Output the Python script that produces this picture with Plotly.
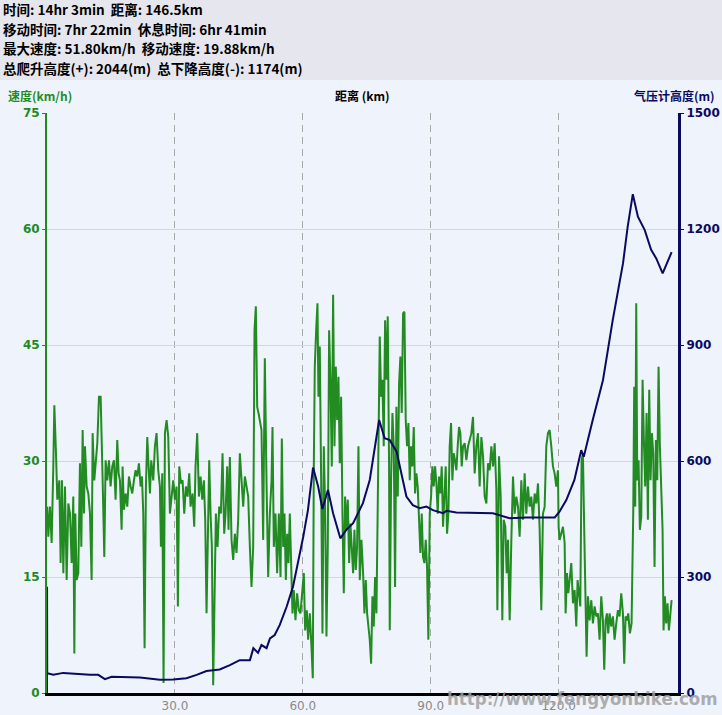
import plotly.graph_objects as go

# ---------------- data ----------------
header_lines = [
    "时间: 14hr 3min\u00a0\u00a0距离: 146.5km",
    "移动时间: 7hr 22min\u00a0\u00a0休息时间: 6hr 41min",
    "最大速度: 51.80km/h\u00a0\u00a0移动速度: 19.88km/h",
    "总爬升高度(+): 2044(m)\u00a0\u00a0总下降高度(-): 1174(m)",
]
speed_title = "速度(km/h)"
dist_title = "距离 (km)"
alt_title = "气压计高度(m)"
watermark = "http://www.fengyonbike.com"

x_tickvals = [30, 60, 90, 120]
x_ticktext = ["30.0", "60.0", "90.0", "120.0"]
speed_ticks = [0, 15, 30, 45, 60, 75]
alt_ticks = [0, 300, 600, 900, 1200, 1500]

# altitude (barometric) profile: distance km / metres
alt_km = [0, 0.01, 0.05, 1.48, 3.82, 10.08, 12.02, 13.59, 15.16, 21.8,
          26.5, 29.6, 32.7, 35.1, 37.4, 40.5, 42.9, 45.2, 47.6, 48.4,
          49.5, 50.3, 51.5, 52.3, 53.4, 54.6, 56.2, 57.7, 58.9, 60.1,
          61.2, 62.4, 63.6, 64.6, 65.9, 67.1, 68.8, 70.2, 71.8, 74.1,
          75.7, 77.9, 79.2, 80.4, 82.0, 84.3, 85.8, 87.4, 89.0, 90.5,
          92.9, 93.7, 96.0, 99.1, 100.7, 104.6, 108.5, 112.4, 119.1, 120.2,
          121.8, 123.7, 125.3, 125.9, 128.0, 130.4, 132.7, 135.1, 136.2, 137.4,
          138.6, 140.2, 141.7, 142.9, 144.4, 146.5]
alt_m = [0, 275, 51, 47, 52, 47, 47, 36, 42, 40,
         34, 35, 38, 47, 57, 61, 72, 85, 85, 116,
         104, 124, 116, 141, 150, 176, 223, 275, 335, 404,
         473, 583, 534, 476, 525, 465, 400, 422, 439, 491,
         551, 706, 659, 654, 624, 508, 486, 478, 482, 473,
         465, 471, 467, 466, 465, 465, 452, 454, 454, 469,
         499, 551, 628, 611, 706, 809, 965, 1111, 1206, 1290,
         1232, 1197, 1146, 1124, 1085, 1140]

# speed profile: distance km / km/h
speed_km_a = [0.05, 0.31, 0.70, 1.09, 1.48, 1.72, 2.11, 2.42, 2.89, 3.20,
              3.52, 3.83, 4.22, 4.61, 5.00, 5.39, 5.78, 6.17, 6.41, 6.64,
              6.95, 7.34, 7.73, 8.05, 8.36, 8.67, 8.91, 9.30, 9.69, 10.08,
              10.47, 10.70, 11.09, 11.48, 11.80, 12.19, 12.58, 13.05, 13.44, 13.75,
              14.14, 14.53, 14.92, 15.31, 15.70, 16.09, 16.48, 16.80, 17.11, 17.50,
              17.73, 18.05, 18.44, 18.83, 19.22, 19.61, 20.00, 20.39, 20.78, 21.17,
              21.56, 21.95, 22.27, 22.58, 22.89, 23.20, 23.52, 23.83, 24.14, 24.45,
              24.92, 25.31, 25.70, 26.09, 26.48, 26.72, 27.03, 27.34, 27.66, 28.05,
              28.44, 28.83, 29.22, 29.61, 30.00, 30.39, 30.70, 31.02, 31.41, 31.80,
              32.19, 32.58, 32.97, 33.36, 33.67, 34.14, 34.53, 34.84, 35.23, 35.63,
              36.02, 36.41, 36.80, 37.11, 37.42, 37.73, 38.05, 38.36, 38.67, 38.98,
              39.30, 39.61, 40.00, 40.39, 40.78, 41.17, 41.56, 41.88, 42.27, 42.58,
              42.89, 43.28, 43.67, 44.06, 44.45, 44.84, 45.23, 45.63, 46.02, 46.41,
              46.80, 47.19, 47.58, 47.97, 48.36, 48.67, 48.98, 49.30, 49.61]
speed_a = [24.1, 20.2, 24.1, 19.4, 29.3, 37.2, 31.0, 25.0, 27.5, 16.8,
           27.5, 15.5, 26.7, 14.6, 24.5, 23.2, 16.8, 25.4, 5.1, 23.2,
           14.6, 15.5, 29.7, 18.9, 34.0, 23.2, 31.9, 26.7, 25.8, 23.2,
           14.6, 33.6, 27.5, 31.0, 32.3, 38.3, 38.3, 27.5, 17.6, 30.1,
           27.5, 30.1, 26.7, 29.3, 30.1, 25.0, 32.7, 28.4, 27.5, 21.1,
           29.3, 23.7, 25.8, 24.1, 28.0, 26.7, 25.8, 27.5, 28.8, 28.0,
           29.7, 26.7, 28.0, 23.2, 5.8, 26.7, 33.1, 29.3, 25.8, 30.1,
           27.5, 31.9, 33.6, 28.8, 26.7, 18.9, 28.4, 1.3, 33.6, 35.3,
           33.1, 23.2, 25.8, 27.5, 25.0, 26.7, 11.2, 29.3, 27.1, 27.5,
           23.2, 26.7, 25.4, 28.4, 24.1, 25.8, 21.5, 29.3, 33.6, 25.4,
           28.0, 25.0, 27.5, 22.4, 10.3, 23.2, 30.1, 23.2, 18.9, 1.0,
           14.6, 23.2, 18.9, 24.1, 23.2, 31.0, 20.6, 23.2, 29.3, 21.1,
           30.5, 19.8, 17.2, 20.6, 18.1, 22.4, 31.0, 27.5, 24.1, 28.0,
           26.7, 25.4, 18.9, 13.7, 18.9, 46.9, 50.0, 37.0, 36.2]

speed_km_b = [50.31, 50.70, 51.09, 51.48, 51.88, 52.27, 52.66, 52.89, 53.20, 53.59,
              53.98, 54.38, 54.77, 55.08, 55.39, 55.70, 56.02, 56.33, 56.64, 56.95,
              57.27, 57.58, 57.89, 58.28, 58.67, 59.06, 59.45, 59.84, 60.23, 60.55,
              60.94, 61.25, 61.64, 62.03, 62.34, 62.58, 62.81, 63.13, 63.44, 63.67,
              63.98, 64.30, 64.61, 64.92, 65.23, 65.55, 65.86, 66.17, 66.48, 66.80,
              67.11, 67.42, 67.73, 68.05, 68.36, 68.67, 68.98, 69.30, 69.61, 69.92,
              70.23, 70.55, 70.86, 71.17, 71.48, 71.80, 72.11, 72.42, 72.73, 73.05,
              73.36, 73.75, 74.14, 74.45, 74.77, 75.08, 75.39, 75.70, 76.02, 76.33,
              76.64, 76.95, 77.27, 77.58, 77.89, 78.05, 78.36, 78.67, 78.98, 79.30,
              79.61, 79.92, 80.23, 80.39, 80.70, 81.02, 81.33, 81.64, 81.95, 82.27,
              82.58, 82.89, 83.20, 83.52, 83.83, 84.14, 84.45, 84.77, 85.08, 85.39,
              85.70, 86.02, 86.33, 86.64, 86.95, 87.27, 87.58, 87.89, 88.20, 88.52,
              88.83, 89.14, 89.45, 89.77, 90.08, 90.39, 90.70, 91.02, 91.33, 91.64,
              91.95, 92.27, 92.58, 92.89, 93.20, 93.52, 93.83, 94.14, 94.45, 94.77,
              95.08, 95.39, 95.70, 96.02, 96.33, 96.64, 96.95, 97.27, 97.58, 97.97,
              98.36, 98.75, 99.14]
speed_b = [34.0, 19.8, 43.3, 27.5, 15.0, 23.2, 27.5, 34.4, 18.9, 23.2,
           15.5, 23.2, 15.0, 32.9, 18.9, 23.2, 14.6, 20.6, 16.8, 23.2,
           15.5, 10.3, 13.3, 9.4, 12.9, 10.7, 10.3, 12.9, 15.5, 8.1,
           10.7, 6.9, 10.3, 6.0, 1.9, 29.3, 42.2, 46.9, 50.4, 38.3,
           44.8, 27.5, 7.7, 31.9, 24.1, 7.3, 18.9, 46.9, 40.5, 29.3,
           51.5, 31.9, 42.2, 35.3, 40.9, 29.7, 38.3, 23.2, 12.9, 25.4,
           21.1, 25.0, 16.8, 21.9, 18.9, 15.5, 21.1, 15.9, 18.9, 31.9,
           14.6, 19.8, 15.5, 10.3, 14.6, 10.3, 8.6, 6.9, 3.8, 12.5,
           8.6, 15.0, 10.3, 22.4, 35.3, 46.1, 38.3, 40.5, 31.9, 48.2,
           40.5, 48.7, 29.7, 8.1, 27.5, 36.2, 31.9, 13.7, 37.0, 25.4,
           40.0, 43.5, 36.2, 49.1, 49.3, 35.3, 31.9, 34.9, 27.5, 31.9,
           29.3, 34.4, 25.8, 28.4, 26.7, 23.2, 18.1, 23.2, 17.6, 16.8,
           19.8, 16.3, 6.9, 23.2, 25.4, 29.3, 26.7, 29.3, 27.1, 23.2,
           28.0, 25.8, 29.3, 21.5, 25.4, 29.3, 20.6, 23.2, 31.9, 34.9,
           27.5, 31.0, 30.1, 28.8, 31.9, 34.4, 33.6, 29.3, 31.9, 32.3,
           30.1, 31.9, 32.7]

speed_km_c = [99.53, 99.92, 100.31, 100.70, 101.09, 101.48, 101.88, 102.27, 102.66, 103.05,
              103.44, 103.83, 104.22, 104.61, 105.00, 105.39, 105.63, 106.02, 106.41, 106.80,
              107.11, 107.50, 107.81, 108.13, 108.52, 108.91, 109.30, 109.69, 110.08, 110.47,
              110.86, 111.25, 111.64, 112.03, 112.42, 112.81, 113.20, 113.59, 113.98, 114.38,
              114.77, 115.16, 115.55, 115.94, 116.33, 116.72, 117.11, 117.50, 117.89, 118.28,
              118.67, 119.06, 119.45, 119.84, 120.00, 120.23, 120.63, 121.02, 121.41, 121.64,
              121.95, 122.27, 122.58, 122.97, 123.36, 123.75, 124.14, 124.45, 124.77, 125.08,
              125.39, 125.70, 126.02, 126.33, 126.56, 126.88, 127.27, 127.66, 128.05, 128.44,
              128.83, 129.22, 129.61, 130.00, 130.39, 130.70, 131.02, 131.33, 131.64, 131.95,
              132.34, 132.73, 133.13, 133.52, 133.91, 134.30, 134.69, 135.08, 135.39, 135.70,
              136.02, 136.33, 136.72, 137.11, 137.50, 137.73, 137.97, 138.20, 138.44, 138.75,
              139.06, 139.38, 139.69, 140.00, 140.31, 140.63, 140.94, 141.25, 141.56, 141.88,
              142.19, 142.50, 142.81, 143.13, 143.44, 143.75, 144.06, 144.38, 144.61, 144.92,
              145.23, 145.55, 145.86, 146.5]
speed_c = [33.6, 35.7, 28.4, 31.9, 33.6, 26.7, 33.1, 30.6, 25.4, 24.5,
           29.7, 28.8, 31.9, 29.3, 32.3, 26.3, 10.7, 30.6, 25.4, 9.4,
           22.4, 21.5, 15.5, 19.8, 9.4, 19.8, 28.0, 23.2, 25.4, 24.1,
           20.2, 27.5, 22.4, 28.4, 23.2, 26.7, 24.1, 25.4, 22.4, 25.8,
           24.5, 27.1, 21.1, 10.7, 23.2, 24.1, 31.9, 33.6, 34.0, 31.9,
           29.3, 28.4, 26.7, 28.8, 21.5, 19.8, 20.6, 21.5, 19.4, 10.3,
           15.5, 12.9, 14.6, 16.8, 11.6, 13.3, 8.6, 14.6, 12.9, 11.2,
           30.1, 31.0, 20.6, 12.9, 4.7, 12.5, 9.4, 12.0, 9.0, 11.2,
           9.9, 10.3, 6.9, 12.5, 9.4, 3.0, 9.4, 10.3, 7.7, 10.3,
           8.6, 9.9, 6.9, 9.0, 10.7, 9.9, 12.9, 10.3, 3.8, 9.9,
           9.4, 10.3, 7.7, 9.0, 23.2, 39.6, 24.1, 50.4, 27.5, 30.1,
           21.1, 22.8, 40.5, 32.7, 26.7, 36.2, 22.4, 39.2, 27.5, 33.6,
           31.0, 16.3, 32.7, 27.5, 42.2, 31.9, 27.5, 21.1, 8.1, 12.5,
           9.0, 11.6, 8.1, 12.0]

speed_km = speed_km_a + speed_km_b + speed_km_c
speed_kmh = speed_a + speed_b + speed_c

# ---------------- style ----------------
W_FIG, H_FIG = 722, 715
L, R, T, B = 47, 44, 113, 22
PW, PH = W_FIG - L - R, H_FIG - T - B

GREEN = "#228B22"
NAVY = "#0A0A5E"
BG = "#EEF3FC"
HEADER_BG = "#E6E7EE"
CJK = "Noto Sans CJK SC, DejaVu Sans, sans-serif"
NUM = "DejaVu Sans, Verdana, sans-serif"


def px(x):
    return (x - L) / PW


def py(y):
    return (T + PH - y) / PH


fig = go.Figure()
fig.add_trace(go.Scatter(x=speed_km, y=speed_kmh, mode="lines",
                         line=dict(color=GREEN, width=2), yaxis="y",
                         hoverinfo="skip", showlegend=False))
fig.add_trace(go.Scatter(x=alt_km, y=alt_m, mode="lines",
                         line=dict(color=NAVY, width=2), yaxis="y2",
                         hoverinfo="skip", showlegend=False))

annotations = []
for i, line in enumerate(header_lines):
    annotations.append(dict(text="<b>" + line + "</b>", x=px(1), y=py(9 + i * 19.7),
                            xref="paper", yref="paper", xanchor="left", yanchor="middle",
                            showarrow=False, font=dict(family=CJK, size=13.5, color="black")))
annotations.append(dict(text="<b>" + speed_title + "</b>", x=px(6), y=py(95), xref="paper",
                        yref="paper", xanchor="left", yanchor="middle", showarrow=False,
                        font=dict(family=CJK, size=12, color=GREEN)))
annotations.append(dict(text="<b>" + dist_title + "</b>", x=px(362), y=py(95), xref="paper",
                        yref="paper", xanchor="center", yanchor="middle", showarrow=False,
                        font=dict(family=CJK, size=12, color="black")))
annotations.append(dict(text="<b>" + alt_title + "</b>", x=px(717), y=py(95), xref="paper",
                        yref="paper", xanchor="right", yanchor="middle", showarrow=False,
                        font=dict(family=CJK, size=12, color=NAVY)))
annotations.append(dict(text="<b>" + watermark + "</b>", x=px(720), y=py(698), xref="paper",
                        yref="paper", xanchor="right", yanchor="middle", showarrow=False,
                        font=dict(family="Liberation Sans Narrow, DejaVu Sans Condensed, sans-serif",
                                  size=18.5, color="rgba(160,160,160,0.85)")))

shapes = [dict(type="rect", xref="paper", yref="paper", x0=px(0), x1=px(W_FIG),
               y0=py(80), y1=py(0), fillcolor=HEADER_BG, line=dict(width=0), layer="below")]

fig.update_layout(
    width=W_FIG, height=H_FIG,
    margin=dict(l=L, r=R, t=T, b=B, pad=0, autoexpand=False),
    paper_bgcolor=BG, plot_bgcolor=BG,
    showlegend=False, hovermode=False,
    annotations=annotations, shapes=shapes,
    xaxis=dict(range=[0, 148], tickvals=x_tickvals, ticktext=x_ticktext, automargin=False,
               showgrid=True, gridcolor="#A8A8A8", griddash="7px,5px", gridwidth=1,
               zeroline=False, showline=True, linecolor="black", linewidth=3,
               ticks="", tickfont=dict(family=NUM, size=12, color="#8A8A8A")),
    yaxis=dict(range=[0, 75], tickvals=speed_ticks, showgrid=True, gridcolor="#D2D6DE",
               gridwidth=1, zeroline=False, showline=True, linecolor=GREEN, linewidth=2,
               ticks="outside", ticklen=3, tickcolor=GREEN, automargin=False,
               tickfont=dict(family=NUM, size=12, color=GREEN, weight="bold")),
    yaxis2=dict(range=[0, 1500], tickvals=alt_ticks, overlaying="y", side="right",
                showgrid=False, zeroline=False, showline=True, linecolor=NAVY, linewidth=3,
                ticks="outside", ticklen=3, tickcolor=NAVY, automargin=False,
                tickfont=dict(family=NUM, size=12, color=NAVY, weight="bold")),
)

fig.write_html(
    "out.html",
    config={"displayModeBar": False},
    post_script="document.documentElement.style.margin='0';"
                "document.body.style.margin='0';document.body.style.padding='0';"
                "document.body.style.overflow='hidden';"
                "document.body.style.background='" + BG + "';",
)
